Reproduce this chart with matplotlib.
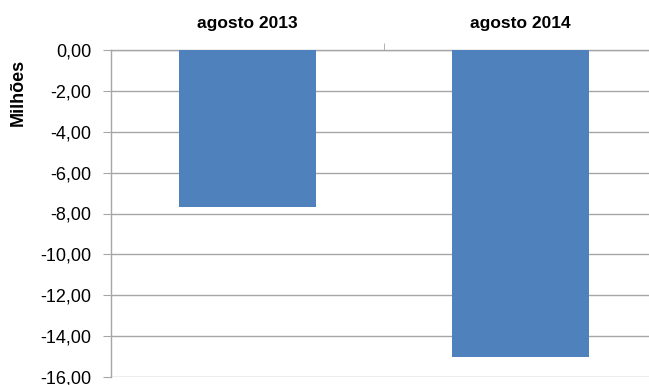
import matplotlib

matplotlib.use("Agg")
import matplotlib.pyplot as plt
import matplotlib.ticker as mticker

categories = ["agosto 2013", "agosto 2014"]
values = [-7.68, -15.03]

plt.rcParams["font.family"] = ["Liberation Sans", "DejaVu Sans"]

W, H = 649, 385
fig = plt.figure(figsize=(W / 100, H / 100), dpi=100)
ax = fig.add_axes([111 / W, 8 / H, 546 / W, 327 / H])

x = list(range(len(categories)))
ax.bar(x, values, width=0.5, color="#4F81BD", zorder=3)

ax.set_xlim(-0.5, 1.5)
ax.set_ylim(-16, 0)
ax.set_yticks(range(-16, 1, 2))
ax.yaxis.set_major_formatter(
    mticker.FuncFormatter(lambda v, _: f"{v:.2f}".replace(".", ","))
)
ax.yaxis.grid(True, color="#a6a6a6", linewidth=1, zorder=0)
ax.tick_params(axis="y", length=6, color="#a6a6a6", labelsize=13, pad=8)

ax.xaxis.tick_top()
ax.set_xticks(x)
ax.set_xticklabels(categories, fontweight="bold", fontsize=12.5)
ax.tick_params(axis="x", length=0, pad=14)
ax.set_xticks([0.5], minor=True)
ax.tick_params(axis="x", which="minor", length=5, color="#a6a6a6", top=True, bottom=False)

for side in ("right", "bottom"):
    ax.spines[side].set_visible(False)
for side in ("left", "top"):
    ax.spines[side].set_color("#a6a6a6")
    ax.spines[side].set_linewidth(1)

fig.text(18 / W, 1 - 92 / H, "Milhões", rotation=90, ha="center", va="center",
         fontweight="bold", fontsize=13)

fig.savefig("out.png", dpi=100)
plt.close(fig)
